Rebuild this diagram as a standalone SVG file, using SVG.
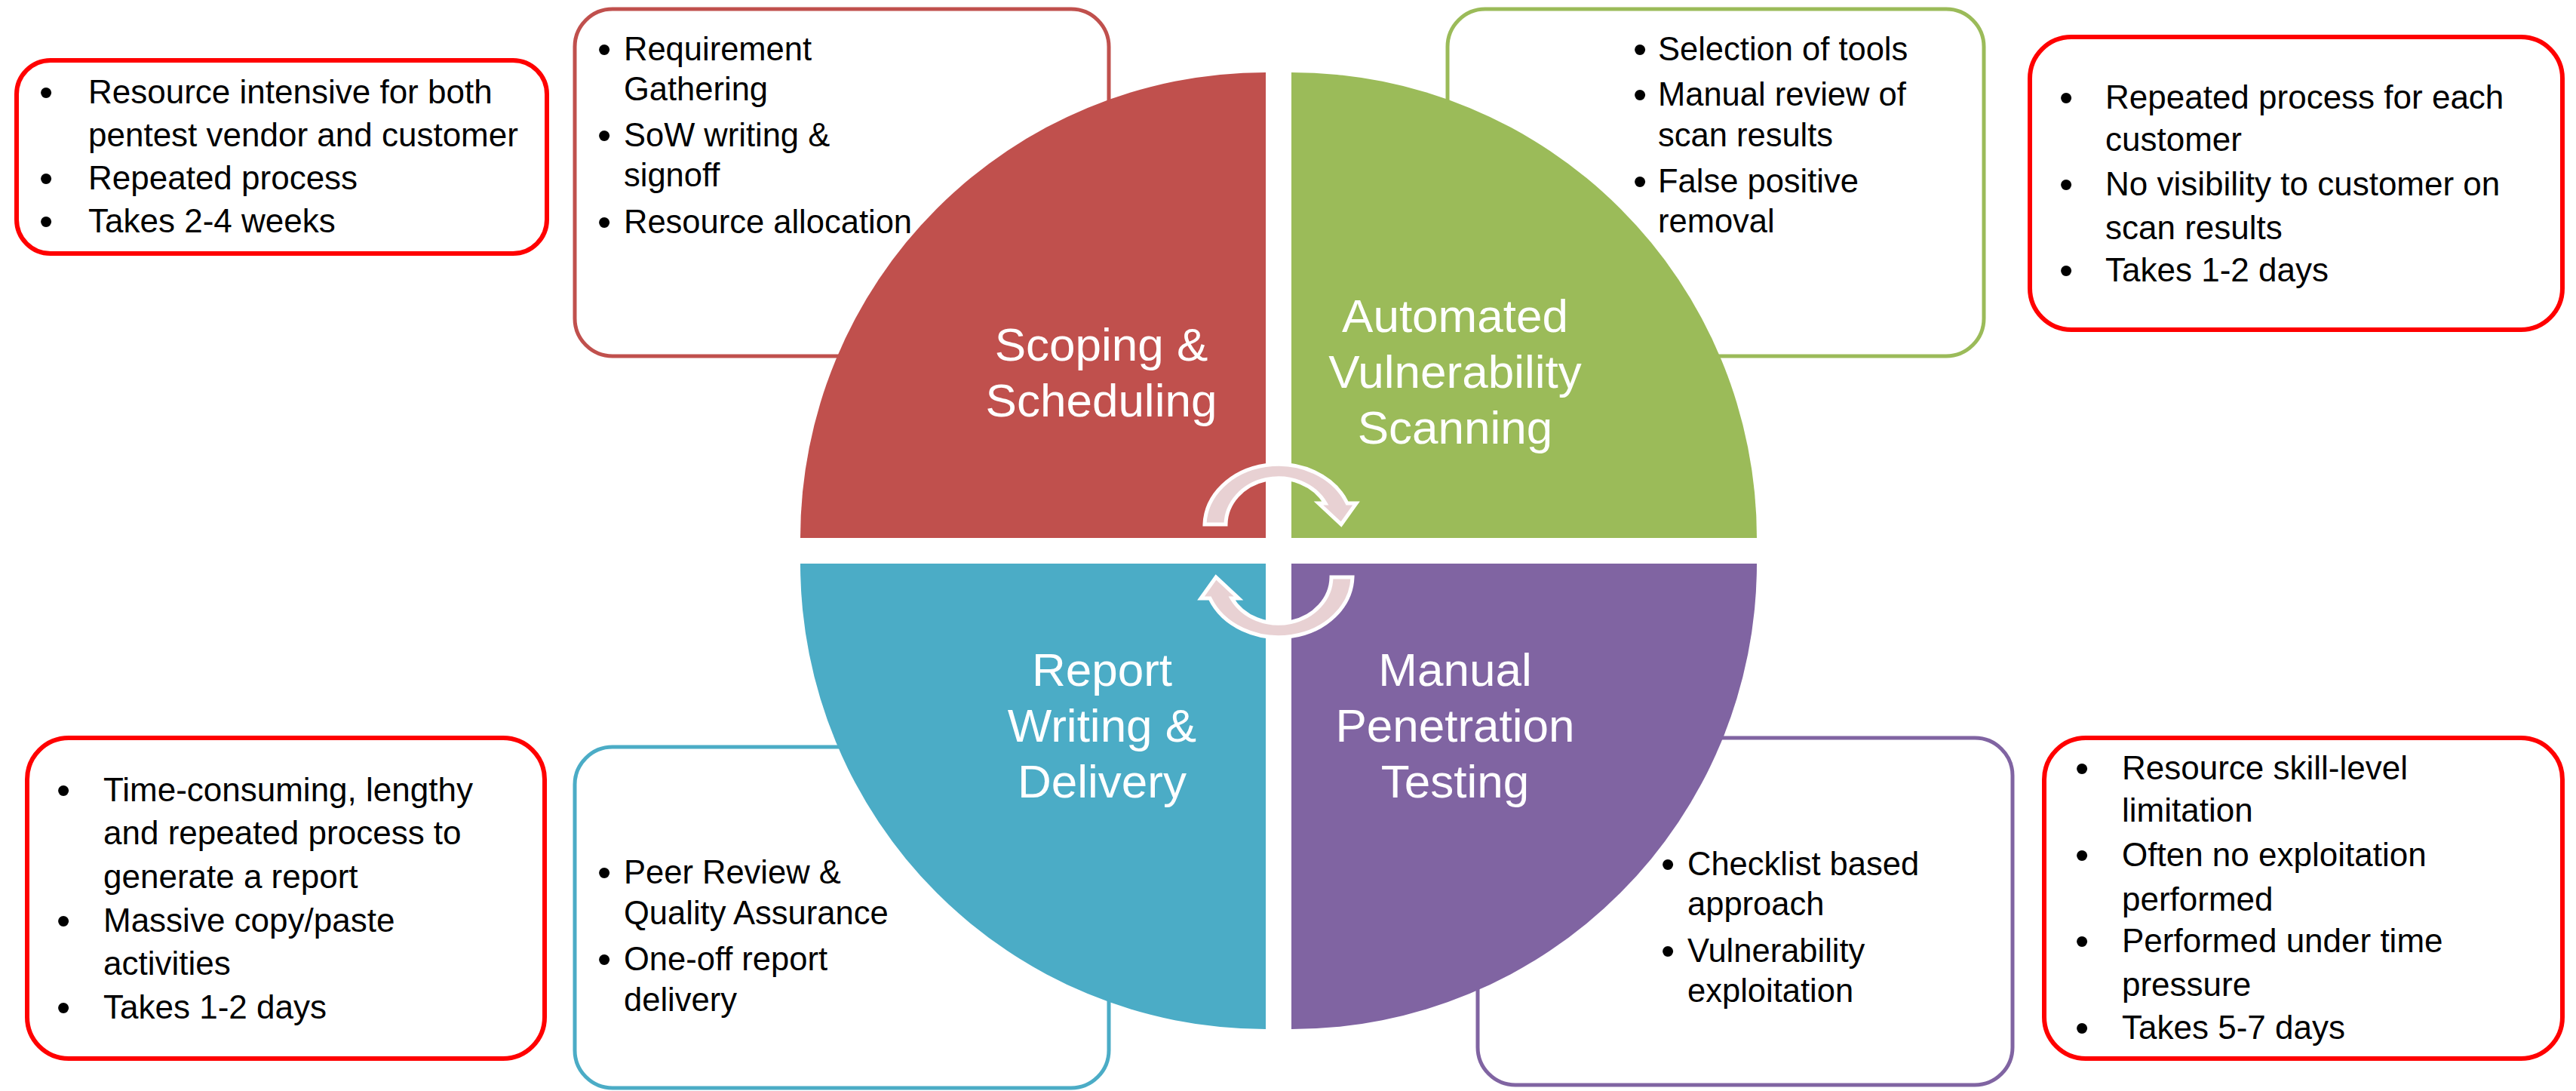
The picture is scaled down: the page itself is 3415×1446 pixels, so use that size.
<svg xmlns="http://www.w3.org/2000/svg" width="3415" height="1446" viewBox="0 0 3415 1446">
<style>
  .lbl { font-family: "Liberation Sans", Arial, sans-serif; font-size: 62px; fill: #FFFFFF; text-anchor: middle; }
  .t { font-family: "Liberation Sans", Arial, sans-serif; font-size: 43.5px; fill: #000000; }
  .tp { font-family: "Liberation Sans", Arial, sans-serif; font-size: 44px; fill: #000000; }
  .bl { font-family: "Liberation Sans", Arial, sans-serif; font-size: 52px; fill: #000000; text-anchor: middle; }
  .prob { fill: #FFFFFF; stroke: #FF0000; stroke-width: 6; }
  .det { fill: #FFFFFF; stroke-width: 5; }
  .arrow { fill: #E8D1D3; stroke: #FFFFFF; stroke-width: 5; stroke-linejoin: miter; }
</style>
<defs>
  <path id="cyc-arrow" d="M1597,695 A98,82 0 0 1 1786,667 L1798,667 L1778,695 L1748,667 L1757,667 A70,62 0 0 0 1625,695 Z"/>
</defs>
<rect x="0" y="0" width="3415" height="1446" fill="#FFFFFF"/>

<!-- Problem boxes -->
<g id="p-scoping">
  <rect class="prob" x="22" y="80" width="703" height="256" rx="45" ry="45"/>
  <text class="bl" x="61" y="140">•</text>
  <text class="tp" x="117" y="137">Resource intensive for both</text>
  <text class="tp" x="117" y="194">pentest vendor and customer</text>
  <text class="bl" x="61" y="254">•</text>
  <text class="tp" x="117" y="251">Repeated process</text>
  <text class="bl" x="61" y="311">•</text>
  <text class="tp" x="117" y="308">Takes 2-4 weeks</text>
</g>
<g id="p-scanning">
  <rect class="prob" x="2691" y="49" width="706" height="388" rx="55" ry="55"/>
  <text class="bl" x="2739" y="147">•</text>
  <text class="tp" x="2791" y="144">Repeated process for each</text>
  <text class="tp" x="2791" y="200">customer</text>
  <text class="bl" x="2739" y="262">•</text>
  <text class="tp" x="2791" y="259">No visibility to customer on</text>
  <text class="tp" x="2791" y="317">scan results</text>
  <text class="bl" x="2739" y="376">•</text>
  <text class="tp" x="2791" y="373">Takes 1-2 days</text>
</g>
<g id="p-report">
  <rect class="prob" x="36" y="978" width="686" height="425" rx="55" ry="55"/>
  <text class="bl" x="84" y="1065">•</text>
  <text class="tp" x="137" y="1062">Time-consuming, lengthy</text>
  <text class="tp" x="137" y="1119">and repeated process to</text>
  <text class="tp" x="137" y="1177">generate a report</text>
  <text class="bl" x="84" y="1238">•</text>
  <text class="tp" x="137" y="1235">Massive copy/paste</text>
  <text class="tp" x="137" y="1292">activities</text>
  <text class="bl" x="84" y="1353">•</text>
  <text class="tp" x="137" y="1350">Takes 1-2 days</text>
</g>
<g id="p-manual">
  <rect class="prob" x="2710" y="978" width="687" height="425" rx="55" ry="55"/>
  <text class="bl" x="2760" y="1036">•</text>
  <text class="tp" x="2813" y="1033">Resource skill-level</text>
  <text class="tp" x="2813" y="1089">limitation</text>
  <text class="bl" x="2760" y="1151">•</text>
  <text class="tp" x="2813" y="1148">Often no exploitation</text>
  <text class="tp" x="2813" y="1207">performed</text>
  <text class="bl" x="2760" y="1265">•</text>
  <text class="tp" x="2813" y="1262">Performed under time</text>
  <text class="tp" x="2813" y="1320">pressure</text>
  <text class="bl" x="2760" y="1380">•</text>
  <text class="tp" x="2813" y="1377">Takes 5-7 days</text>
</g>

<!-- Detail boxes (behind the quadrants) -->
<g id="d-scoping">
  <rect class="det" stroke="#C0504D" x="762" y="12" width="708" height="460" rx="50" ry="50"/>
  <text class="bl" x="801" y="83">•</text>
  <text class="t" x="827" y="80">Requirement</text>
  <text class="t" x="827" y="133">Gathering</text>
  <text class="bl" x="801" y="197">•</text>
  <text class="t" x="827" y="194">SoW writing &amp;</text>
  <text class="t" x="827" y="247">signoff</text>
  <text class="bl" x="801" y="312">•</text>
  <text class="t" x="827" y="309">Resource allocation</text>
</g>
<g id="d-scanning">
  <rect class="det" stroke="#9BBB59" x="1919" y="12" width="711" height="460" rx="50" ry="50"/>
  <text class="bl" x="2174" y="83">•</text>
  <text class="t" x="2198" y="80">Selection of tools</text>
  <text class="bl" x="2174" y="143">•</text>
  <text class="t" x="2198" y="140">Manual review of</text>
  <text class="t" x="2198" y="194">scan results</text>
  <text class="bl" x="2174" y="258">•</text>
  <text class="t" x="2198" y="255">False positive</text>
  <text class="t" x="2198" y="308">removal</text>
</g>
<g id="d-report">
  <rect class="det" stroke="#4BACC6" x="762" y="990" width="708" height="452" rx="50" ry="50"/>
  <text class="bl" x="801" y="1174">•</text>
  <text class="t" x="827" y="1171">Peer Review &amp;</text>
  <text class="t" x="827" y="1225">Quality Assurance</text>
  <text class="bl" x="801" y="1289">•</text>
  <text class="t" x="827" y="1286">One-off report</text>
  <text class="t" x="827" y="1340">delivery</text>
</g>
<g id="d-manual">
  <rect class="det" stroke="#8064A2" x="1959" y="978" width="709" height="460" rx="50" ry="50"/>
  <text class="bl" x="2211" y="1163">•</text>
  <text class="t" x="2237" y="1160">Checklist based</text>
  <text class="t" x="2237" y="1213">approach</text>
  <text class="bl" x="2211" y="1278">•</text>
  <text class="t" x="2237" y="1275">Vulnerability</text>
  <text class="t" x="2237" y="1328">exploitation</text>
</g>

<!-- Quadrants -->
<g id="q-scoping">
  <path d="M1678,713 L1061,713 A617,617 0 0 1 1678,96 Z" fill="#C0504D"/>
  <text class="lbl" x="1460" y="478">Scoping &amp;</text>
  <text class="lbl" x="1460" y="552">Scheduling</text>
</g>
<g id="q-scanning">
  <path d="M1712,713 L1712,96 A617,617 0 0 1 2329,713 Z" fill="#9BBB59"/>
  <text class="lbl" x="1929" y="440">Automated</text>
  <text class="lbl" x="1929" y="514">Vulnerability</text>
  <text class="lbl" x="1929" y="588">Scanning</text>
</g>
<g id="q-report">
  <path d="M1678,747 L1678,1364 A617,617 0 0 1 1061,747 Z" fill="#4BACC6"/>
  <text class="lbl" x="1461" y="909">Report</text>
  <text class="lbl" x="1461" y="983">Writing &amp;</text>
  <text class="lbl" x="1461" y="1057">Delivery</text>
</g>
<g id="q-manual">
  <path d="M1712,747 L2329,747 A617,617 0 0 1 1712,1364 Z" fill="#8064A2"/>
  <text class="lbl" x="1929" y="909">Manual</text>
  <text class="lbl" x="1929" y="983">Penetration</text>
  <text class="lbl" x="1929" y="1057">Testing</text>
</g>

<!-- Connectors: circular arrows -->
<g id="connectors">
  <use href="#cyc-arrow" class="arrow"/>
  <use href="#cyc-arrow" class="arrow" transform="rotate(180 1695 730)"/>
</g>
</svg>
